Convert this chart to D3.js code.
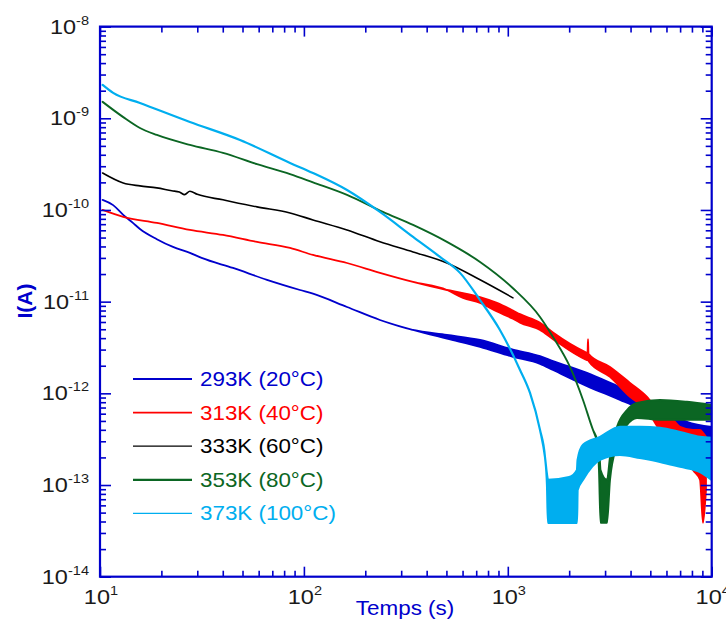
<!DOCTYPE html>
<html><head><meta charset="utf-8">
<script src="https://cdn.jsdelivr.net/npm/d3@7"></script>
<style>body{margin:0;background:#fff}svg{display:block}</style>
</head><body>
<svg id="c" width="726" height="622"></svg>
<script>
// ---- data: [time (s), I low (A), I high (A)] ; single value = clean line
const seriesLabels = ["293K (20°C)", "313K (40°C)", "333K (60°C)", "353K (80°C)", "373K (100°C)"];
const seriesColors = ["#0000cc", "#ff0000", "#000000", "#0b6623", "#00aeef"];
const xTickExps = [1, 2, 3, 4];
const yTickExps = [-8, -9, -10, -11, -12, -13, -14];

const s293 = [[10.3,1.29e-10],[11.6,1.13e-10],[13.0,8.83e-11],[14.5,7.22e-11],[15.7,6.2e-11],[19.0,4.8e-11],[22.8,3.95e-11],[27.6,3.40e-11],[31.5,3.0e-11],[44.9,2.33e-11],[65.9,1.73e-11],[95.7,1.34e-11],[110.8,1.22e-11],[162.7,8.75e-12],[236,6.31e-12],[343,4.91e-12],[503,3.95e-12,4.34e-12],[731,3.21e-12,3.82e-12],[1060,2.5e-12,3.0e-12],[1439,2.1e-12,2.55e-12],[1666,1.8e-12,2.25e-12],[2446,1.2e-12,1.67e-12],[3550,8.47e-13,1.17e-12],[4301,7.0e-13,9.8e-13],[5154,5.52e-13,7.85e-13],[6245,4.31e-13,6.11e-13],[7564,3.70e-13,4.9e-13],[10000,3.35e-13,4.31e-13]];

const s313 = [[10.3,1.0e-10],[13.0,8.39e-11],[19.0,7.22e-11],[27.6,6.05e-11],[40.1,5.34e-11],[58.9,4.48e-11],[85.5,3.85e-11],[110.8,3.23e-11],[162.7,2.64e-11],[236,2.06e-11],[343,1.64e-11],[503,1.34e-11],[603,1.10e-11,1.24e-11],[731,9.68e-12,1.12e-11],[885,7.8e-12,9.68e-12],[1060,6.5e-12,8.0e-12],[1148,5.9e-12,7.3e-12],[1439,4.9e-12,5.9e-12],[1666,3.9e-12,4.6e-12],[2400,2.35e-12,2.82e-12],[2460,2.3e-12,2.75e-12],[2474,2.3e-12,3.9e-12],[2488,2.25e-12,2.7e-12],[3171,1.51e-12,1.94e-12],[3975,9.14e-13,1.30e-12],[4817,6.59e-13,9.14e-13],[5578,3.99e-13,6.11e-13],[6461,3.35e-13,5.15e-13],[6990,3.27e-13,4.31e-13],[8096,1.46e-13,3.99e-13],[8761,1.14e-13,3.99e-13],[9064,3.86e-14,3.7e-13],[9376,8.85e-14,3.35e-13]];

const s333 = [[10.3,2.53e-10],[13.0,1.97e-10],[15.7,1.83e-10],[19.0,1.74e-10],[22.5,1.62e-10],[24.5,1.57e-10],[26.0,1.47e-10],[27.6,1.6e-10],[30.0,1.48e-10],[40.1,1.29e-10],[58.9,1.08e-10],[85.5,9.27e-11],[110.8,7.78e-11],[162.7,6.05e-11],[236,4.5e-11],[343,3.48e-11],[503,2.64e-11],[731,1.73e-11],[1060,1.10e-11]];

const s353 = [[10.3,1.51e-9],[13.0,1.03e-9],[15.7,7.84e-10],[19.0,6.58e-10],[27.6,5.12e-10],[40.1,4.19e-10],[58.9,3.16e-10],[85.5,2.46e-10],[110.8,2.0e-10],[162.7,1.46e-10],[244,9.51e-11],[343,6.86e-11],[503,4.48e-11],[731,2.71e-11],[1060,1.4e-11],[1439,6.81e-12],[1666,4.12e-12],[2018,1.94e-12],[2338,8.47e-13],[2617,3.99e-13],[2739,3.10e-13],[2800,1.46e-13,2.74e-13],[2850,3.86e-14,1.46e-13],[3066,3.86e-14,1.14e-13],[3171,1.14e-13,2.02e-13],[3432,2.74e-13,4.31e-13],[3842,4.52e-13,6.57e-13],[4301,5.39e-13,7.85e-13],[5578,5.15e-13,8.47e-13],[7564,5.15e-13,8.09e-13],[10000,5.15e-13,7.48e-13]];

const s373 = [[10.3,2.31e-9],[11.6,1.89e-9],[15.7,1.47e-9],[27.6,9.12e-10],[48.6,5.80e-10],[85.5,3.26e-10],[110.8,2.53e-10],[162.7,1.65e-10],[236,9.51e-11],[343,5.08e-11],[465,3.07e-11],[583,2.06e-11],[731,1.04e-11],[915,4.91e-12],[1148,1.80e-12],[1285,1.01e-12],[1439,3.99e-13],[1522,2.02e-13],[1557,1.0e-13,1.3e-13],[1574,3.86e-14,1.14e-13],[2000,3.86e-14,1.22e-13],[2184,3.86e-14,1.46e-13],[2200,8.85e-14,1.88e-13],[2338,1.14e-13,2.74e-13],[2833,1.88e-13,3.35e-13],[3550,2.13e-13,4.31e-13],[4450,1.97e-13,4.31e-13],[5578,1.79e-13,4.20e-13],[7000,1.58e-13,3.79e-13],[8761,1.39e-13,3.35e-13],[10000,1.14e-13,3.27e-13]];

const allSeries = [s293, s313, s333, s353, s373];
const lineWidths = [1.8, 1.8, 1.6, 1.9, 2.2];

// ---- drawing
const svg = d3.select("#c");
const L = 100, R = 711.7, T = 26.6, B = 576.7;
const axisColor = "#0000cc";
const x = d3.scaleLog().domain([10, 1e4]).range([L, R]);
const y = d3.scaleLog().domain([1e-14, 1e-8]).range([B, T]);

svg.append("rect").attr("width", 726).attr("height", 622).attr("fill", "#fff");

svg.append("clipPath").attr("id", "pc").append("rect")
  .attr("x", L).attr("y", T).attr("width", R - L).attr("height", B - T);

const plot = svg.append("g").attr("clip-path", "url(#pc)");
const area = d3.area()
  .curve(d3.curveMonotoneX)
  .x(d => x(d[0]))
  .y0(d => y(d[1]))
  .y1(d => y(d.length > 2 ? d[2] : d[1]));

allSeries.forEach((s, i) => {
  plot.append("path").datum(s).attr("d", area)
    .attr("fill", seriesColors[i]).attr("stroke", seriesColors[i])
    .attr("stroke-width", lineWidths[i]).attr("stroke-linejoin", "round");
});

// ticks
const xMinor = [], yMinor = [];
for (let e = 1; e < 4; e++) for (let k = 2; k <= 9; k++) xMinor.push(k * Math.pow(10, e));
for (let e = -14; e < -8; e++) for (let k = 2; k <= 9; k++) yMinor.push(+(k * Math.pow(10, e)).toPrecision(3));
const xMajor = xTickExps.map(e => Math.pow(10, e));
const yMajor = yTickExps.map(e => Math.pow(10, e));

function addAxis(gen, transform, values, size) {
  const g = svg.append("g").attr("transform", transform)
    .call(gen.tickValues(values).tickSize(size).tickSizeOuter(0).tickFormat(""));
  g.select(".domain").remove();
  g.selectAll("line").attr("stroke", axisColor).attr("stroke-width", 1.6);
  return g;
}
addAxis(d3.axisBottom(x), `translate(0,${B})`, xMinor, -6);
addAxis(d3.axisBottom(x), `translate(0,${B})`, xMajor, -10);
addAxis(d3.axisTop(x), `translate(0,${T})`, xMinor, -6);
addAxis(d3.axisTop(x), `translate(0,${T})`, xMajor, -10);
addAxis(d3.axisLeft(y), `translate(${L},0)`, yMinor, -6);
addAxis(d3.axisLeft(y), `translate(${L},0)`, yMajor, -11);
addAxis(d3.axisRight(y), `translate(${R},0)`, yMinor, -6);
addAxis(d3.axisRight(y), `translate(${R},0)`, yMajor, -11);

svg.append("rect").attr("x", L).attr("y", T).attr("width", R - L).attr("height", B - T)
  .attr("fill", "none").attr("stroke", axisColor).attr("stroke-width", 2.2);

const FONT = "'Liberation Sans', Arial, sans-serif";
function sci(px, py, exp, anchor) {
  const t = svg.append("text").attr("transform", `translate(${px},${py}) scale(1.12,1)`)
    .attr("text-anchor", anchor).attr("font-family", FONT).attr("fill", "#1a1a1a");
  t.append("tspan").attr("font-size", 21).text("10");
  t.append("tspan").attr("font-size", 13).attr("dy", -9).text(exp);
}
yTickExps.forEach(e => sci(89, y(Math.pow(10, e)) + 7, e, "end"));
xTickExps.forEach(e => sci(x(Math.pow(10, e)) + 1, 604, e, "middle"));

// axis titles
svg.append("text").attr("transform", "translate(32,301) rotate(-90)")
  .attr("text-anchor", "middle").attr("font-family", FONT).attr("font-weight", "bold")
  .attr("font-size", 21).attr("fill", axisColor).text("I(A)");
svg.append("text").attr("transform", "translate(405,615) scale(1.15,1)")
  .attr("text-anchor", "middle").attr("font-family", FONT)
  .attr("font-size", 19.5).attr("fill", axisColor).text("Temps (s)");

// legend
const legendW = [2.2, 1.6, 1.3, 2.2, 1.3];
seriesLabels.forEach((lab, i) => {
  const ly = 379 + i * 33.6;
  svg.append("line").attr("x1", 133).attr("x2", 192).attr("y1", ly).attr("y2", ly)
    .attr("stroke", seriesColors[i]).attr("stroke-width", legendW[i]);
  svg.append("text").attr("transform", `translate(200,${ly + 7}) scale(1.12,1)`)
    .attr("font-family", FONT).attr("font-size", 20).attr("fill", seriesColors[i]).text(lab);
});
</script>
</body></html>
